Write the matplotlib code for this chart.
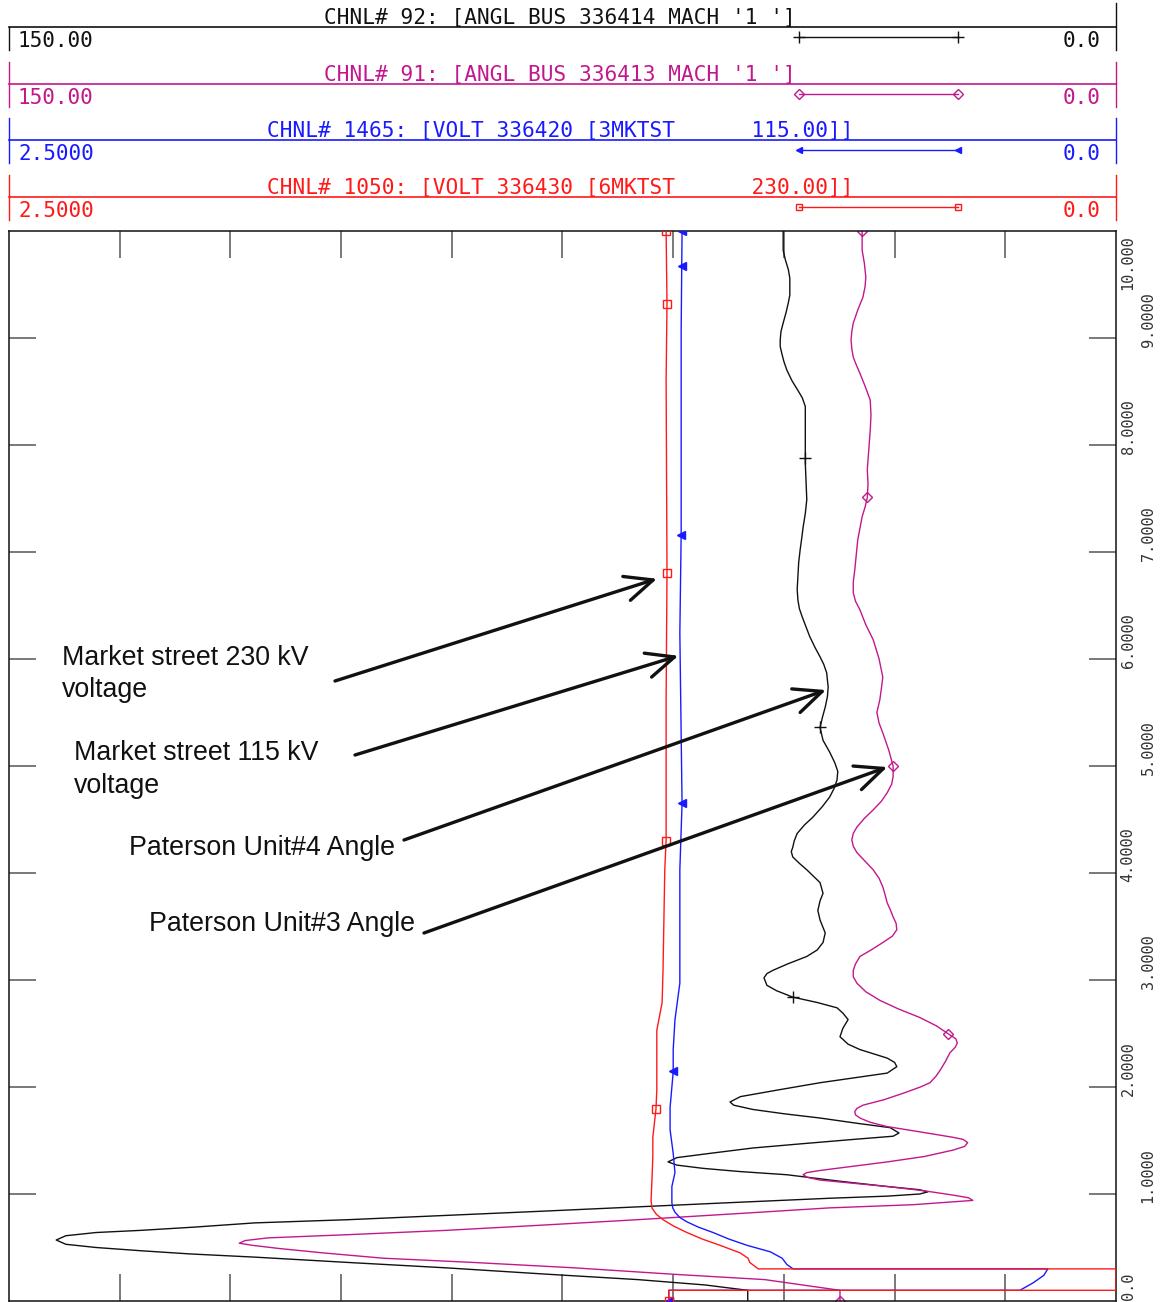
import numpy as np
import matplotlib
matplotlib.use('agg')
import matplotlib.pyplot as plt
from matplotlib.transforms import blended_transform_factory

W, H = 1169, 1302

# CHNL 92 - angle bus 336414 (Paterson unit 4), time [s] / angle [deg]
t_u4 = [0.0, 0.10, 0.15, 0.20, 0.25, 0.31, 0.36, 0.41, 0.44, 0.47,
        0.50, 0.53, 0.57, 0.61, 0.64, 0.66, 0.69, 0.73, 0.76, 0.80,
        0.84, 0.88, 0.92, 0.96, 0.98, 1.00, 1.02, 1.04, 1.07, 1.12,
        1.18, 1.21, 1.24, 1.27, 1.30, 1.34, 1.38, 1.43, 1.47, 1.51,
        1.54, 1.57, 1.62, 1.66, 1.71, 1.75, 1.79, 1.83, 1.86, 1.91,
        1.97, 2.04, 2.09, 2.13, 2.19, 2.23, 2.27, 2.35, 2.40, 2.47,
        2.55, 2.63, 2.69, 2.74, 2.79, 2.84, 2.90, 2.95, 3.02, 3.06,
        3.09, 3.15, 3.22, 3.28, 3.35, 3.44, 3.56, 3.65, 3.74, 3.81,
        3.91, 4.03, 4.09, 4.15, 4.20, 4.24, 4.30, 4.37, 4.45, 4.52,
        4.62, 4.71, 4.79, 4.87, 4.95, 5.03, 5.13, 5.24, 5.30, 5.36,
        5.45, 5.55, 5.65, 5.74, 5.80, 5.87, 5.95, 6.02, 6.11, 6.21,
        6.30, 6.39, 6.47, 6.55, 6.65, 6.77, 6.90, 7.02, 7.12, 7.23,
        7.36, 7.49, 7.65, 7.83, 7.98, 8.14, 8.25, 8.36, 8.44, 8.51,
        8.60, 8.70, 8.78, 8.86, 8.92, 8.98, 9.06, 9.14, 9.24, 9.33,
        9.40, 9.48, 9.56, 9.64, 9.73, 9.82, 9.91, 10.0]
ang_u4 = [49.9, 49.9, 55.7, 64.8, 77.0, 90.8, 104.0, 116.7, 125.5, 132.2,
          138.2, 142.3, 143.6, 142.3, 138.2, 132.2, 125.0, 116.7, 104.0, 90.8,
          77.5, 64.8, 52.0, 38.9, 31.0, 26.6, 25.5, 26.6, 31.0, 37.5,
          44.6, 51.0, 56.0, 59.5, 60.7, 59.5, 55.0, 49.2, 42.5, 35.6,
          30.2, 29.4, 30.6, 35.0, 40.1, 45.0, 49.2, 51.8, 52.3, 50.9,
          46.0, 40.1, 35.0, 31.0, 29.7, 30.0, 31.0, 34.7, 36.3, 37.4,
          37.0, 36.3, 37.0, 37.8, 40.5, 43.8, 46.0, 47.3, 47.7, 47.3,
          46.5, 44.5, 41.9, 40.5, 39.7, 39.4, 40.1, 40.4, 40.1, 39.7,
          40.1, 41.9, 42.9, 43.8, 44.0, 43.8, 43.6, 43.2, 42.2, 41.1,
          39.8, 38.8, 38.2, 37.8, 37.7, 38.1, 38.8, 39.7, 39.9, 40.1,
          39.8, 39.4, 39.1, 39.0, 39.1, 39.2, 39.6, 40.1, 40.8, 41.5,
          42.0, 42.5, 42.9, 43.1, 43.2, 43.1, 43.0, 42.8, 42.6, 42.4,
          42.1, 41.9, 42.0, 42.1, 42.1, 42.1, 42.1, 42.1, 42.5, 43.1,
          43.9, 44.6, 45.0, 45.3, 45.5, 45.5, 45.4, 45.1, 44.7, 44.4,
          44.2, 44.2, 44.2, 44.4, 44.8, 45.1, 45.1, 45.1]

# CHNL 91 - angle bus 336413 (Paterson unit 3)
t_u3 = [0.0, 0.10, 0.20, 0.25, 0.31, 0.36, 0.40, 0.45, 0.49, 0.52,
        0.54, 0.565, 0.59, 0.62, 0.66, 0.71, 0.76, 0.82, 0.87, 0.90,
        0.93, 0.94, 0.965, 0.99, 1.03, 1.07, 1.13, 1.155, 1.18, 1.20,
        1.22, 1.26, 1.30, 1.35, 1.41, 1.445, 1.48, 1.51, 1.53, 1.58,
        1.63, 1.67, 1.71, 1.74, 1.77, 1.80, 1.83, 1.88, 1.94, 2.00,
        2.04, 2.10, 2.16, 2.24, 2.32, 2.37, 2.41, 2.45, 2.50, 2.57,
        2.65, 2.73, 2.81, 2.89, 2.97, 3.03, 3.09, 3.15, 3.22, 3.28,
        3.35, 3.41, 3.47, 3.53, 3.59, 3.66, 3.72, 3.80, 3.87, 3.95,
        4.03, 4.11, 4.19, 4.25, 4.31, 4.37, 4.43, 4.51, 4.59, 4.67,
        4.75, 4.83, 4.90, 5.00, 5.15, 5.31, 5.40, 5.50, 5.62, 5.72,
        5.83, 6.00, 6.18, 6.32, 6.46, 6.54, 6.62, 6.72, 6.83, 6.97,
        7.11, 7.22, 7.33, 7.42, 7.51, 7.64, 7.77, 7.95, 8.14, 8.28,
        8.42, 8.55, 8.67, 8.75, 8.82, 8.90, 8.98, 9.06, 9.14, 9.26,
        9.38, 9.48, 9.57, 9.70, 9.82, 9.91, 10.0]
ang_u3 = [37.4, 37.4, 47.6, 60.0, 73.4, 87.0, 99.3, 107.5, 113.3, 117.0,
          118.8, 118.0, 114.9, 104.0, 90.8, 77.5, 64.8, 50.5, 38.9, 27.5,
          21.5, 19.4, 20.0, 22.1, 26.0, 31.0, 40.1, 41.8, 42.4, 41.9,
          40.1, 35.5, 31.0, 26.0, 22.1, 20.5, 20.1, 20.7, 22.1, 26.5,
          31.0, 33.3, 34.7, 35.3, 35.4, 35.1, 34.3, 31.5, 28.9, 26.5,
          25.2, 24.4, 23.8, 23.1, 22.5, 21.8, 21.5, 21.7, 22.8, 24.3,
          26.6, 29.5, 32.0, 33.9, 35.1, 35.6, 35.6, 35.3, 34.7, 33.2,
          31.6, 30.3, 29.7, 29.8, 30.2, 30.6, 31.0, 31.3, 31.6, 32.1,
          32.9, 34.0, 35.1, 35.6, 35.8, 35.6, 35.1, 34.1, 32.9, 31.8,
          31.0, 30.4, 30.2, 30.2, 30.8, 31.6, 32.1, 32.4, 32.0, 31.8,
          31.6, 32.1, 32.9, 33.9, 34.7, 35.3, 35.6, 35.6, 35.4, 35.2,
          35.0, 34.7, 34.4, 34.0, 33.7, 33.6, 33.7, 33.5, 33.3, 33.2,
          33.3, 34.0, 34.7, 35.2, 35.6, 35.8, 35.9, 35.8, 35.6, 35.0,
          34.3, 34.0, 33.9, 34.1, 34.4, 34.4, 34.4]

# CHNL 1050 - voltage 336430 Market St 230 kV [pu]
t_v230 = [0.0, 0.10, 0.10, 0.30, 0.30, 0.36, 0.40, 0.45, 0.52, 0.58, 0.64, 0.70, 0.76, 0.81, 0.87,
          0.94, 1.13, 1.35, 1.53, 1.79, 1.97, 2.28, 2.53, 2.79, 3.09, 3.56, 4.03, 4.31, 4.87, 5.62,
          6.80, 8.61, 9.32, 10.0]
v230 = [1.010, 1.010, 0.0, 0.0, 0.808, 0.827, 0.831, 0.849, 0.894, 0.935, 0.969, 0.999, 1.023, 1.038, 1.048,
        1.050, 1.048, 1.046, 1.046, 1.039, 1.037, 1.037, 1.037, 1.025, 1.023, 1.021, 1.019, 1.016, 1.016, 1.016,
        1.014, 1.016, 1.014, 1.016]

# CHNL 1465 - voltage 336420 Market St 115 kV [pu]
t_v115 = [0.0, 0.10, 0.10, 0.17, 0.24, 0.30, 0.30, 0.34, 0.40, 0.46, 0.52, 0.58, 0.64, 0.69, 0.74,
          0.78, 0.83, 0.87, 0.92, 1.07, 1.20, 1.38, 1.60, 1.81, 2.14, 2.35, 2.63, 2.97, 3.56, 4.03,
          4.65, 6.24, 7.17, 9.08, 10.0]
v115 = [1.010, 1.010, 0.217, 0.187, 0.163, 0.154, 0.729, 0.743, 0.754, 0.781, 0.833, 0.875, 0.910, 0.943, 0.969,
        0.985, 0.996, 1.001, 1.003, 1.003, 0.996, 1.000, 1.007, 1.007, 1.000, 1.000, 0.996, 0.985, 0.985, 0.985,
        0.980, 0.985, 0.982, 0.982, 0.980]

# symbol times along each trace
mk_u4 = [2.84, 5.36, 7.88]
mk_u3 = [0.0, 2.50, 5.00, 7.51, 10.0]
mk_v230 = [0.0, 1.79, 4.30, 6.80, 9.32, 10.0]
mk_v115 = [0.0, 2.15, 4.65, 7.16, 9.67, 10.0]

time_ticks = [10, 9, 8, 7, 6, 5, 4, 3, 2, 1, 0]
time_labels = ['10.000', '9.0000', '8.0000', '7.0000', '6.0000', '5.0000',
               '4.0000', '3.0000', '2.0000', '1.0000', '0.0']

c_u4 = '#111111'
c_u3 = '#c2188c'
c_115 = '#1a1aff'
c_230 = '#ff1a1a'

mono = 'DejaVu Sans Mono'

fig = plt.figure(figsize=(W / 100, H / 100), dpi=100)
rect = [9 / W, 1 - 1301 / H, (1116 - 9) / W, (1301 - 231) / H]
ax = fig.add_axes(rect)
ax.set_xlim(150, 0)
ax.set_ylim(0, 10)
ax.set_xticks(np.arange(15, 150, 15))
ax.set_yticks(range(1, 10))
ax.tick_params(direction='in', length=19.5, width=1.1, color='#555555',
               top=True, right=True, labelbottom=False, labelleft=False)
for s in ax.spines.values():
    s.set_linewidth(1.1)
    s.set_color('#111111')

# voltage traces share the time axis, own 2.5 .. 0.0 scale
axv = fig.add_axes(rect, sharey=ax)
axv.set_xlim(2.5, 0)
axv.axis('off')
axv.patch.set_alpha(0)

ax.plot(ang_u4, t_u4, color=c_u4, lw=1.0)
ax.plot(np.interp(mk_u4, t_u4, ang_u4), mk_u4, ls='none', marker='+', ms=9, mew=1.0, color=c_u4)
ax.plot(ang_u3, t_u3, color=c_u3, lw=1.0)
ax.plot(np.interp(mk_u3, t_u3, ang_u3), mk_u3, ls='none', marker='D', ms=5, mew=1.0,
        mfc='none', color=c_u3)
axv.plot(v115, t_v115, color=c_115, lw=1.0)
axv.plot(np.interp(mk_v115, t_v115, v115), mk_v115, ls='none', marker='<', ms=6, color=c_115)
axv.plot(v230, t_v230, color=c_230, lw=1.0)
axv.plot(np.interp(mk_v230, t_v230, v230), mk_v230, ls='none', marker='s', ms=6, mew=1.0,
         mfc='none', color=c_230)

# staggered time labels on the right
tr = blended_transform_factory(fig.transFigure, ax.transData)
for i, (tk, lab) in enumerate(zip(time_ticks, time_labels)):
    xf = (1128 if i % 2 == 0 else 1148) / W
    if tk == 10:
        fig.text(xf, tk - 0.04, lab, transform=tr, rotation=90, ha='center', va='top',
                 family=mono, fontsize=11, color='#333333')
    else:
        fig.text(xf, max(tk - 0.08, 0.01), lab, transform=tr, rotation=90, ha='center',
                 va='bottom', family=mono, fontsize=11, color='#333333')

# overlay in pixel coordinates for the channel header and the notes
ov = fig.add_axes([0, 0, 1, 1])
ov.set_xlim(0, W)
ov.set_ylim(H, 0)
ov.axis('off')
ov.patch.set_alpha(0)

panels = [
    ("CHNL# 92: [ANGL BUS 336414 MACH '1 ']", '150.00', c_u4, '+', 27),
    ("CHNL# 91: [ANGL BUS 336413 MACH '1 ']", '150.00', c_u3, 'D', 84),
    ("CHNL# 1465: [VOLT 336420 [3MKTST      115.00]]", '2.5000', c_115, '<', 140),
    ("CHNL# 1050: [VOLT 336430 [6MKTST      230.00]]", '2.5000', c_230, 's', 197),
]
for i, (title, vmax, col, mk, y0) in enumerate(panels):
    ov.plot([9, 1116], [y0, y0], color=col, lw=1.2)
    ov.plot([9, 9], [y0 if i == 0 else y0 - 22, y0 + 23], color=col, lw=1.0)
    ov.plot([1116, 1116], [3 if i == 0 else y0 - 22, y0 + 23], color=col, lw=1.0)
    ov.text(560, y0 - 9, title, ha='center', va='center', family=mono, fontsize=15.2, color=col)
    ov.text(18, y0 + 14, vmax, ha='left', va='center', family=mono, fontsize=15, color=col)
    ov.text(1101, y0 + 14, '0.0', ha='right', va='center', family=mono, fontsize=15, color=col)
    ov.plot([799, 958], [y0 + 10, y0 + 10], color=col, lw=1.0, marker=mk,
            ms=9 if mk == '+' else 5, mfc='none' if mk in 'Ds' else col, mew=1.0)

notes = [
    (62, 658, 'Market street 230 kV'), (62, 690, 'voltage'),
    (74, 753, 'Market street 115 kV'), (74, 786, 'voltage'),
    (129, 848, 'Paterson Unit#4 Angle'),
    (149, 924, 'Paterson Unit#3 Angle'),
]
for x, y, s in notes:
    ov.text(x, y, s, ha='left', va='center', family='Liberation Sans', fontsize=19.3, color='#111111')

# arrows: start (pixels) -> point on trace (angle scale, time)
arrow_start = [(335, 681), (355, 755), (404, 840), (424, 933)]
arrow_tip_ang = [62.2, 59.3, 39.3, 31.0]
arrow_tip_t = [6.75, 6.03, 5.71, 4.99]
for (xs, ys), a, t in zip(arrow_start, arrow_tip_ang, arrow_tip_t):
    ov.annotate('', xy=(a, t), xycoords=ax.transData, xytext=(xs, ys), textcoords='data',
                arrowprops=dict(arrowstyle='->,head_length=1.0,head_width=0.45', lw=2.4,
                                color='#111111', shrinkA=0, shrinkB=0, mutation_scale=20))

fig.savefig('out.png', dpi=100)
